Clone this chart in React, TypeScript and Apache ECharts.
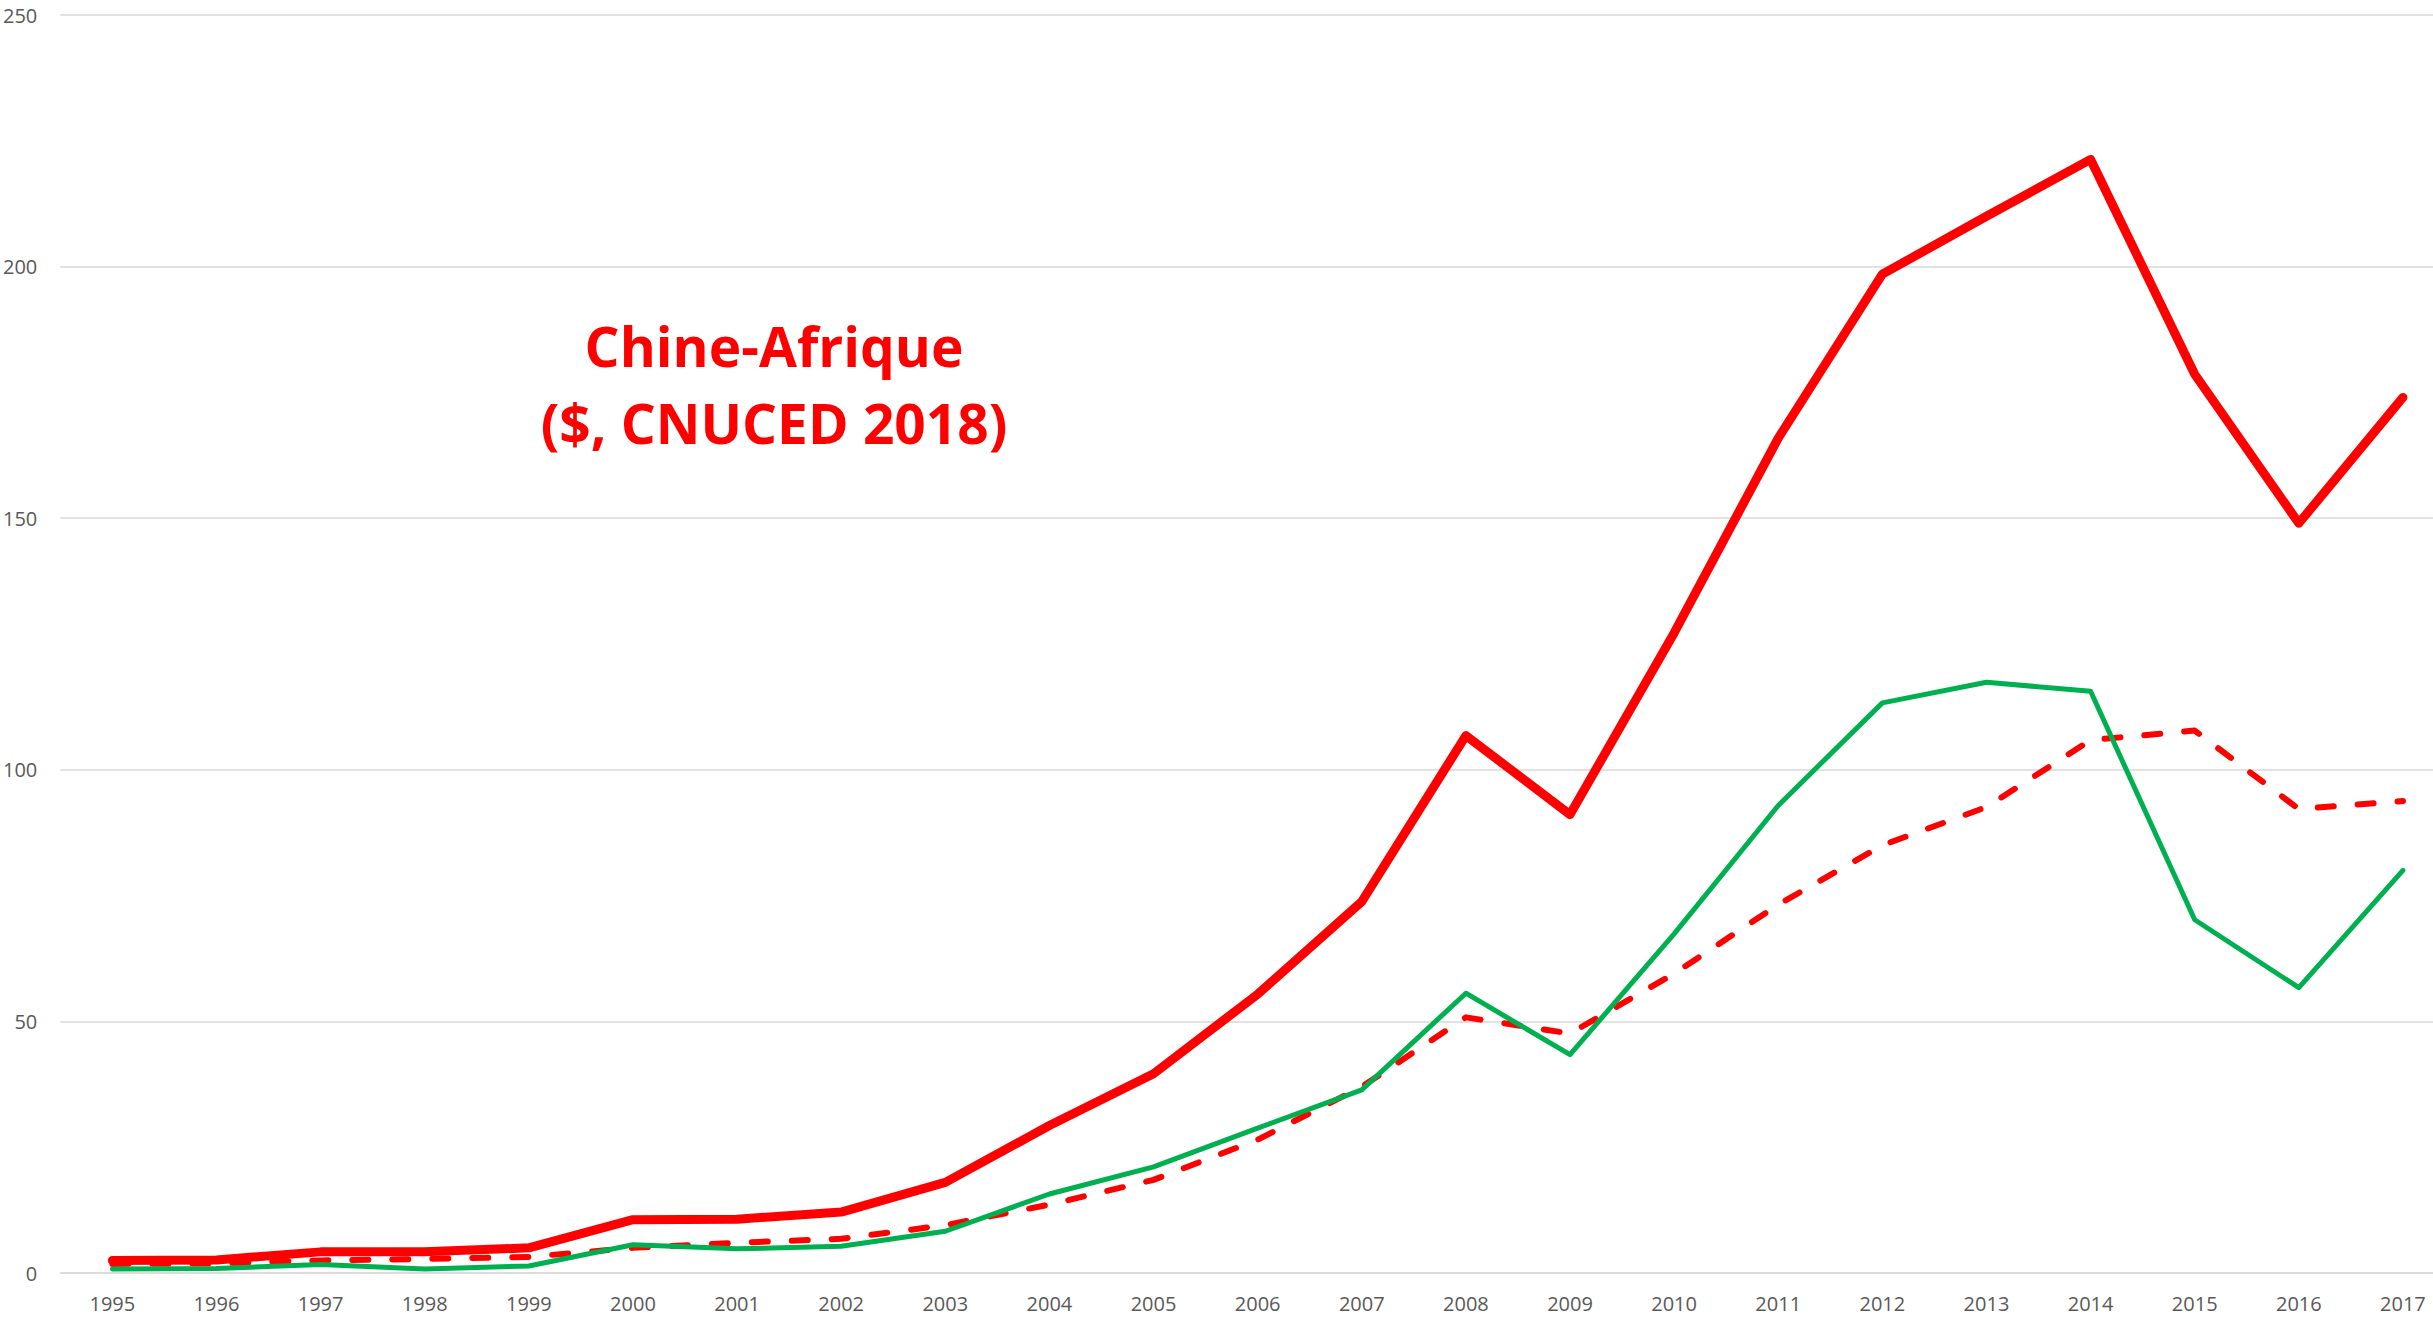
import React, { useEffect, useRef } from "react";
import * as echarts from "echarts";

const years = ["1995","1996","1997","1998","1999","2000","2001","2002","2003","2004","2005","2006","2007","2008","2009","2010","2011","2012","2013","2014","2015","2016","2017"];
const totalTrade = [2.5, 2.6, 4.2, 4.2, 5.0, 10.6, 10.7, 12.1, 18.0, 29.3, 39.6, 55.4, 73.8, 106.8, 91.1, 127.2, 165.9, 198.5, 210.0, 221.3, 178.6, 149.0, 174.0];
const exportsToAfrica = [1.8, 1.9, 2.5, 2.8, 3.2, 5.0, 6.0, 6.8, 9.5, 13.6, 18.5, 26.5, 37.0, 50.8, 47.6, 59.5, 73.2, 85.0, 92.6, 105.9, 107.8, 92.2, 93.8];
const importsFromAfrica = [0.8, 0.9, 1.7, 0.8, 1.4, 5.6, 4.8, 5.3, 8.3, 15.7, 21.1, 28.8, 36.4, 55.6, 43.4, 67.4, 92.9, 113.3, 117.4, 115.6, 70.2, 56.7, 80.0];
const yTicks = { min: 0, max: 250, interval: 50 };
const titleLines = ["Chine-Afrique", "($, CNUCED 2018)"];

export default function App() {
  const ref = useRef<HTMLDivElement>(null);
  useEffect(() => {
    if (!ref.current) return;
    const chart = echarts.init(ref.current, null, { renderer: "svg" });
    chart.setOption({
      animation: false,
      backgroundColor: "#ffffff",
      grid: { left: 57, top: 15, width: 2398, height: 1258, containLabel: false },
      xAxis: {
        type: "category",
        data: years,
        boundaryGap: true,
        axisLine: { show: true, lineStyle: { color: "#d9d9d9", width: 1.5 } },
        axisTick: { show: false },
        axisLabel: { color: "#595959", fontSize: 20, fontFamily: "Open Sans", margin: 20, interval: 0 },
        splitLine: { show: false },
      },
      yAxis: {
        type: "value",
        min: yTicks.min,
        max: yTicks.max,
        interval: yTicks.interval,
        axisLine: { show: false },
        axisTick: { show: false },
        axisLabel: { color: "#595959", fontSize: 20, fontFamily: "Open Sans", margin: 23 },
        splitLine: { show: true, lineStyle: { color: "#d9d9d9", width: 1.5 } },
      },
      graphic: [
        {
          type: "text",
          x: 774,
          y: 384,
          style: {
            text: titleLines.join("\n"),
            fill: "#ff0000",
            fontSize: 55,
            fontWeight: "bold",
            fontFamily: "Open Sans",
            lineHeight: 77,
            align: "center",
            verticalAlign: "middle",
          },
        },
      ],
      series: [
        {
          name: "Exportations de la Chine vers l'Afrique",
          type: "line",
          data: exportsToAfrica,
          showSymbol: false,
          lineStyle: { color: "#ff0000", width: 6, type: [16, 24], cap: "round", join: "round" },
          itemStyle: { color: "#ff0000" },
          z: 2,
        },
        {
          name: "Importations de la Chine depuis l'Afrique",
          type: "line",
          data: importsFromAfrica,
          showSymbol: false,
          lineStyle: { color: "#00b050", width: 5, cap: "round", join: "round" },
          itemStyle: { color: "#00b050" },
          z: 3,
        },
        {
          name: "Commerce total Chine-Afrique",
          type: "line",
          data: totalTrade,
          showSymbol: false,
          lineStyle: { color: "#ff0000", width: 9, cap: "round", join: "round" },
          itemStyle: { color: "#ff0000" },
          z: 4,
        },
      ],
    });
    return () => chart.dispose();
  }, []);
  return (
    <div style={{ position: "fixed", left: 0, top: 0, width: "100vw", height: "100vh", overflow: "hidden", background: "#fff" }}>
      <div ref={ref} style={{ width: 2500, height: 1326 }} />
    </div>
  );
}
